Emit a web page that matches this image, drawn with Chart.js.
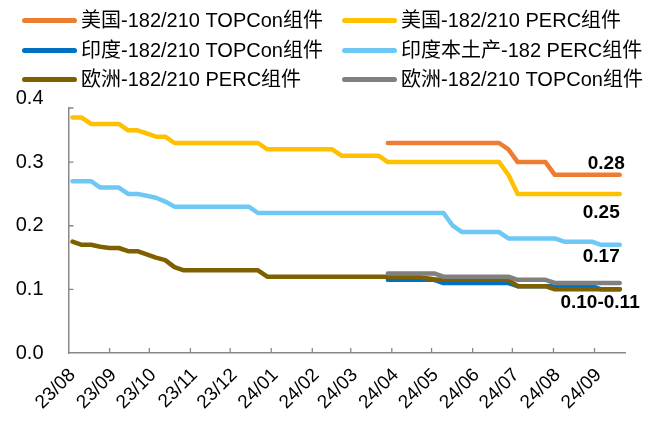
<!DOCTYPE html>
<html>
<head>
<meta charset="utf-8">
<script src="https://cdn.jsdelivr.net/npm/chart.js@4.4.1/dist/chart.umd.min.js"></script>
<style>
  body { margin: 0; background: #fff; }
  #wrap { position: relative; width: 666px; height: 421px; }
  .item { position: absolute; height: 24px; line-height: 24px; white-space: nowrap;
          font: 20px "Liberation Sans", Arial, "Noto Sans CJK SC", sans-serif; color: #000; }
  .swatch { display: inline-block; width: 55px; height: 5px; border-radius: 3px;
            vertical-align: middle; margin-right: 4px; position: relative; top: -1px; }
</style>
</head>
<body>
<div id="wrap">
  <canvas id="canvas" width="666" height="421"></canvas>
  <div id="legend"></div>
</div>
<script>
// weekly price points (Fridays), USD/W
var weeks = [
  '2023-08-04','2023-08-11','2023-08-18','2023-08-25','2023-09-01','2023-09-08','2023-09-15','2023-09-22',
  '2023-09-29','2023-10-06','2023-10-13','2023-10-20','2023-10-27','2023-11-03','2023-11-10','2023-11-17',
  '2023-11-24','2023-12-01','2023-12-08','2023-12-15','2023-12-22','2023-12-29','2024-01-05','2024-01-12',
  '2024-01-19','2024-01-26','2024-02-02','2024-02-09','2024-02-16','2024-02-23','2024-03-01','2024-03-08',
  '2024-03-15','2024-03-22','2024-03-29','2024-04-05','2024-04-12','2024-04-19','2024-04-26','2024-05-03',
  '2024-05-10','2024-05-17','2024-05-24','2024-05-31','2024-06-07','2024-06-14','2024-06-21','2024-06-28',
  '2024-07-05','2024-07-12','2024-07-19','2024-07-26','2024-08-02','2024-08-09','2024-08-16','2024-08-23',
  '2024-08-30','2024-09-06','2024-09-13','2024-09-20'
];
var monthStarts = ['2023-08-01','2023-09-01','2023-10-01','2023-11-01','2023-12-01','2024-01-01','2024-02-01',
  '2024-03-01','2024-04-01','2024-05-01','2024-06-01','2024-07-01','2024-08-01','2024-09-01'];
var monthLabels = ['23/08','23/09','23/10','23/11','23/12','24/01','24/02','24/03','24/04','24/05','24/06','24/07','24/08','24/09'];
var axisEnd = '2024-09-24';

var N = null;
var usTopcon = [N,N,N,N,N,N,N,N,N,N,N,N,N,N,N,N,N,N,N,N,N,N,N,N,N,N,N,N,N,N,N,N,N,N,
  0.33,0.33,0.33,0.33,0.33,0.33,0.33,0.33,0.33,0.33,0.33,0.33,0.33,0.32,0.30,0.30,0.30,0.30,
  0.28,0.28,0.28,0.28,0.28,0.28,0.28,0.28];
var usPerc = [0.37,0.37,0.36,0.36,0.36,0.36,0.35,0.35,0.345,0.34,0.34,
  0.33,0.33,0.33,0.33,0.33,0.33,0.33,0.33,0.33,0.33,
  0.32,0.32,0.32,0.32,0.32,0.32,0.32,0.32,
  0.31,0.31,0.31,0.31,0.31,
  0.30,0.30,0.30,0.30,0.30,0.30,0.30,0.30,0.30,0.30,0.30,0.30,0.30,
  0.28,0.25,0.25,0.25,0.25,0.25,0.25,0.25,0.25,0.25,0.25,0.25,0.25];
var indiaTopcon = [N,N,N,N,N,N,N,N,N,N,N,N,N,N,N,N,N,N,N,N,N,N,N,N,N,N,N,N,N,N,N,N,N,N,
  0.115,0.115,0.115,0.115,0.115,0.115,0.11,0.11,0.11,0.11,0.11,0.11,0.11,0.11,
  0.105,0.105,0.105,0.105,0.105,0.105,0.105,0.105,0.105,0.10,0.10,0.10];
var indiaPerc = [0.27,0.27,0.27,0.26,0.26,0.26,0.25,0.25,0.247,0.244,0.238,
  0.23,0.23,0.23,0.23,0.23,0.23,0.23,0.23,0.23,
  0.22,0.22,0.22,0.22,0.22,0.22,0.22,0.22,0.22,0.22,0.22,0.22,0.22,0.22,0.22,0.22,0.22,0.22,0.22,0.22,0.22,
  0.20,0.19,0.19,0.19,0.19,0.19,0.18,0.18,0.18,0.18,0.18,0.18,0.175,0.175,0.175,0.175,0.17,0.17,0.17];
var euPerc = [0.175,0.17,0.17,0.167,0.165,0.165,0.16,0.16,0.155,0.15,0.146,0.135,
  0.13,0.13,0.13,0.13,0.13,0.13,0.13,0.13,0.13,
  0.12,0.12,0.12,0.12,0.12,0.12,0.12,0.12,0.12,0.12,0.12,0.12,0.12,0.12,0.12,0.12,0.12,
  0.118,0.116,0.115,0.115,0.115,0.115,0.115,0.115,0.115,0.115,
  0.105,0.105,0.105,0.105,0.10,0.10,0.10,0.10,0.10,0.10,0.10,0.10];
var euTopcon = [N,N,N,N,N,N,N,N,N,N,N,N,N,N,N,N,N,N,N,N,N,N,N,N,N,N,N,N,N,N,N,N,N,N,
  0.125,0.125,0.125,0.125,0.125,0.125,0.12,0.12,0.12,0.12,0.12,0.12,0.12,0.12,
  0.115,0.115,0.115,0.115,0.11,0.11,0.11,0.11,0.11,0.11,0.11,0.11];

var seriesNames = ['美国-182/210 TOPCon组件','美国-182/210 PERC组件','印度-182/210 TOPCon组件',
  '印度本土产-182 PERC组件','欧洲-182/210 PERC组件','欧洲-182/210 TOPCon组件'];
var seriesData = [usTopcon, usPerc, indiaTopcon, indiaPerc, euPerc, euTopcon];
var seriesColors = ['#ED7D31','#FFC000','#0070C0','#6DC8F6','#7F6000','#808080'];

var endLabels = ['0.28','0.25','0.17','0.10-0.11'];
var endValues = [0.28, 0.25, 0.17, 0.10];

var yTicks = [0, 0.1, 0.2, 0.3, 0.4];

function dayOf(s) {
  var p = s.split('-');
  return (Date.UTC(+p[0], +p[1] - 1, +p[2]) - Date.UTC(2023, 7, 1)) / 86400000;
}

var weekDays = weeks.map(dayOf);
var monthDays = monthStarts.map(dayOf);

var datasets = seriesData.map(function(vals, i) {
  return {
    label: seriesNames[i],
    data: vals.map(function(v, k) { return { x: weekDays[k], y: v }; }),
    borderColor: seriesColors[i],
    backgroundColor: seriesColors[i],
    borderWidth: 4.5,
    pointRadius: 0,
    tension: 0,
    borderCapStyle: 'round',
    borderJoinStyle: 'round',
    order: seriesData.length - i
  };
});

// legend (html, two columns)
var legend = document.getElementById('legend');
seriesNames.forEach(function(name, i) {
  var col = i % 2, row = Math.floor(i / 2);
  var el = document.createElement('div');
  el.className = 'item';
  el.style.left = [22, 342][col] + 'px';
  el.style.top = ([16, 46, 75][row] - 12) + 'px';
  el.innerHTML = '<span class="swatch" style="background:' + seriesColors[i] + '"></span>' + name;
  legend.appendChild(el);
});

var axisColor = '#888888';

// inward tick marks like the original
var innerTicks = {
  id: 'innerTicks',
  beforeDatasetsDraw: function(chart) {
    var ctx = chart.ctx, a = chart.chartArea;
    var xs = chart.scales.x, ys = chart.scales.y;
    ctx.save();
    ctx.strokeStyle = axisColor;
    ctx.lineWidth = 1.3;
    ctx.beginPath();
    yTicks.forEach(function(v) {
      if (v <= 0) return;
      var py = Math.max(ys.getPixelForValue(v), a.top);
      ctx.moveTo(a.left, py); ctx.lineTo(a.left + 5, py);
    });
    monthDays.forEach(function(d) {
      if (d <= 0) return;
      var px = xs.getPixelForValue(d);
      ctx.moveTo(px, a.bottom); ctx.lineTo(px, a.bottom - 5);
    });
    ctx.stroke();
    ctx.restore();
  }
};

// value notes at the right end
var endNotes = {
  id: 'endNotes',
  afterDatasetsDraw: function(chart) {
    var ctx = chart.ctx;
    var xs = chart.scales.x, ys = chart.scales.y;
    var lastX = xs.getPixelForValue(weekDays[weekDays.length - 1]);
    var dx = [5, 0, 0, 20], dy = [-11.5, 19, 11.5, 13];
    ctx.save();
    ctx.font = 'bold 19px "Liberation Sans", Arial, sans-serif';
    ctx.fillStyle = '#000';
    ctx.textAlign = 'right';
    ctx.textBaseline = 'middle';
    endLabels.forEach(function(t, i) {
      ctx.fillText(t, lastX + dx[i], ys.getPixelForValue(endValues[i]) + dy[i]);
    });
    ctx.restore();
  }
};

var font = { family: '"Liberation Sans", Arial, sans-serif', size: 19 };

new Chart(document.getElementById('canvas'), {
  type: 'line',
  data: { datasets: datasets },
  plugins: [innerTicks, endNotes],
  options: {
    responsive: false,
    animation: false,
    events: [],
    layout: { padding: { left: 0, right: 41, top: 108, bottom: 0 } },
    plugins: { legend: { display: false }, tooltip: { enabled: false } },
    scales: {
      x: {
        type: 'linear',
        min: 0,
        max: dayOf(axisEnd),
        afterBuildTicks: function(scale) {
          scale.ticks = monthDays.map(function(d) { return { value: d }; });
        },
        afterFit: function(scale) { scale.height = 68; },
        ticks: {
          autoSkip: false,
          minRotation: 45,
          maxRotation: 45,
          padding: 11,
          labelOffset: 4,
          color: '#000',
          font: font,
          callback: function(v, i) { return monthLabels[i]; }
        },
        grid: { drawOnChartArea: false, drawTicks: false },
        border: { display: true, color: axisColor, width: 1.5 }
      },
      y: {
        min: 0,
        max: 0.385,
        afterBuildTicks: function(scale) {
          scale.ticks = yTicks.map(function(v) { return { value: v }; });
        },
        afterFit: function(scale) { scale.width = 68.5; },
        ticks: {
          padding: 25,
          color: '#000',
          font: { family: font.family, size: 20 },
          callback: function(v) { return Number(v).toFixed(1); }
        },
        grid: { drawOnChartArea: false, drawTicks: false },
        border: { display: true, color: axisColor, width: 1.5 }
      }
    }
  }
});
</script>
</body>
</html>
